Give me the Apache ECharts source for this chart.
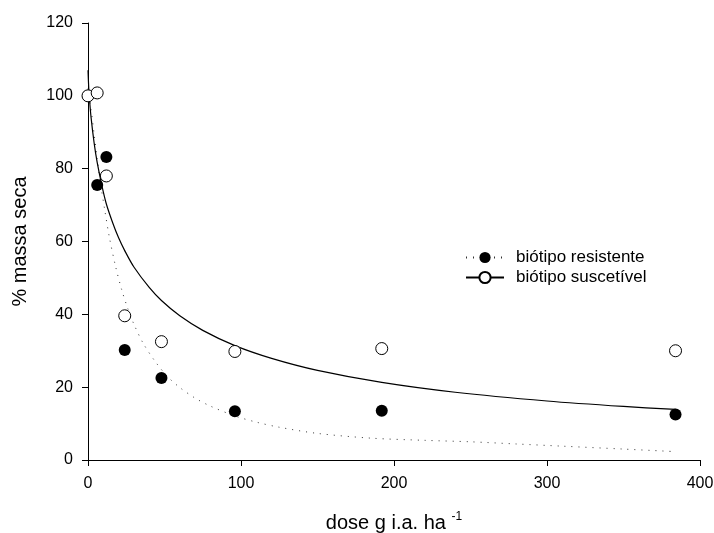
<!DOCTYPE html>
<html>
<head>
<meta charset="utf-8">
<script src="https://cdn.jsdelivr.net/npm/echarts@6/dist/echarts.min.js"></script>
<style>
  html, body { margin: 0; padding: 0; background: #fff; }
  #chart { width: 714px; height: 533px; }
</style>
</head>
<body>
<div id="chart"></div>
<script>
// Observed dry mass (% of control) by herbicide dose (g i.a. ha-1)
var doses = [0, 6, 12, 24, 48, 96, 192, 384];
var resistente = [100, 75.5, 83.2, 30.2, 22.5, 13.4, 13.5, 12.5];
var suscetivel = [100, 100.8, 78.0, 39.6, 32.5, 29.8, 30.6, 30.0];

// Fitted dose-response curve, resistant biotype (dotted)
var curvaResX = [0, 2, 4, 6, 8, 11, 14, 18, 22, 26, 30, 36, 44, 52, 60, 70, 80, 96, 110, 125, 150, 185, 220, 250, 280, 310, 350, 384];
var curvaResY = [102, 96.3, 89.5, 82.8, 76.5, 68.5, 61.1, 53.2, 46.8, 41.6, 37.3, 32.1, 27.0, 22.9, 19.9, 17.0, 14.8, 12.1, 10.4, 9.0, 7.3, 6.0, 5.4, 5.0, 4.4, 3.8, 3.0, 2.3];

// Fitted dose-response curve, susceptible biotype (solid)
var curvaSusX = [0, 0.5, 1, 2, 4, 6, 9, 12, 16, 20, 24, 30, 40, 48, 60, 75, 96, 120, 150, 192, 240, 300, 350, 384];
var curvaSusY = [107, 102.0, 98.9, 94.1, 87.1, 81.7, 75.5, 70.3, 65.3, 61.0, 57.5, 53.0, 47.4, 43.8, 39.6, 35.6, 31.4, 27.9, 24.6, 21.3, 18.6, 16.2, 14.7, 13.9];

var xTicks = [0, 100, 200, 300, 400];
var yTicks = [0, 20, 40, 60, 80, 100, 120];

function pairs(xs, ys) {
  return xs.map(function (x, i) { return [x, ys[i]]; });
}

var FONT = 'Arial, "Liberation Sans", sans-serif';
var chart = echarts.init(document.getElementById('chart'), null, { renderer: 'canvas' });

var axisCommon = {
  axisLine: { show: true, lineStyle: { color: '#000', width: 1 } },
  axisTick: { show: true, inside: false, length: 6, lineStyle: { color: '#000' } },
  splitLine: { show: false },
  axisLabel: { color: '#000', fontFamily: FONT, fontSize: 16 }
};

chart.setOption({
  animation: false,
  backgroundColor: '#fff',
  grid: { left: 88, right: 14, top: 23, bottom: 73, containLabel: false, outerBoundsMode: 'none' },
  xAxis: Object.assign({}, axisCommon, {
    type: 'value',
    min: xTicks[0],
    max: xTicks[xTicks.length - 1],
    interval: 100,
    axisLabel: Object.assign({}, axisCommon.axisLabel, {
      margin: 16, alignMinLabel: 'center', alignMaxLabel: 'center'
    }),
    name: 'dose g i.a. ha {sup|-1}',
    nameLocation: 'middle',
    nameGap: 51,
    nameTextStyle: {
      color: '#000', fontFamily: FONT, fontSize: 20,
      rich: { sup: { fontSize: 12, fontFamily: FONT, color: '#000', verticalAlign: 'top', padding: [0, 0, 12, 0] } }
    }
  }),
  yAxis: Object.assign({}, axisCommon, {
    type: 'value',
    min: yTicks[0],
    max: yTicks[yTicks.length - 1],
    interval: 20,
    axisLabel: Object.assign({}, axisCommon.axisLabel, { margin: 15 }),
    name: '% massa seca',
    nameLocation: 'middle',
    nameGap: 58,
    nameTextStyle: { color: '#000', fontFamily: FONT, fontSize: 20 }
  }),
  legend: {
    left: 465,
    top: 249,
    orient: 'vertical',
    padding: 0,
    itemWidth: 38,
    itemHeight: 14,
    itemGap: 3,
    textStyle: { color: '#000', fontFamily: FONT, fontSize: 17, padding: [0, 0, 0, 7] },
    data: ['biótipo resistente', 'biótipo suscetível']
  },
  series: [
    {
      name: 'biótipo resistente',
      type: 'line',
      data: pairs(curvaResX, curvaResY),
      smooth: 0.3,
      symbol: 'circle',
      showSymbol: false,
      itemStyle: { color: '#000' },
      lineStyle: { color: '#333', width: 1, type: [1, 6] },
      z: 2
    },
    {
      name: 'biótipo suscetível',
      type: 'line',
      data: pairs(curvaSusX, curvaSusY),
      smooth: 0.3,
      symbol: 'circle',
      showSymbol: false,
      itemStyle: { color: '#fff', borderColor: '#000', borderWidth: 1 },
      lineStyle: { color: '#000', width: 1.2 },
      z: 2
    },
    {
      name: 'biótipo resistente',
      type: 'scatter',
      data: pairs(doses, resistente),
      symbol: 'circle',
      symbolSize: 12,
      itemStyle: { color: '#000', opacity: 1 },
      z: 3
    },
    {
      name: 'biótipo suscetível',
      type: 'scatter',
      data: pairs(doses, suscetivel),
      symbol: 'circle',
      symbolSize: 12,
      itemStyle: { color: '#fff', borderColor: '#000', borderWidth: 1, opacity: 1 },
      z: 4
    }
  ]
});
</script>
</body>
</html>
